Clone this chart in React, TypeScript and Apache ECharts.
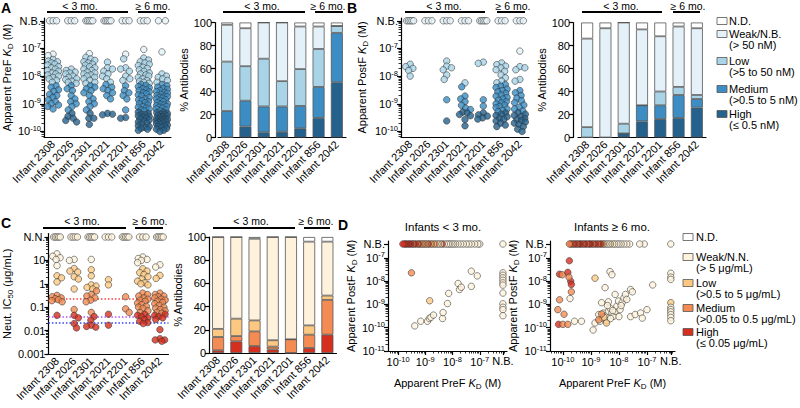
import React, { useEffect, useRef } from 'react';
import * as echarts from 'echarts';

const FONT = "'Liberation Sans', Arial, Helvetica, sans-serif";

const infants = ['Infant 2308', 'Infant 2026', 'Infant 2301', 'Infant 2021', 'Infant 2201', 'Infant 856', 'Infant 2042'];

// ---------- Panel A: apparent PreF KD (nM), one list per infant ----------
const preFKdNM: number[][] = [
  [62, 55, 40, 35, 33, 30, 27, 25, 22, 20, 18, 16, 15, 13, 12, 11, 10, 9, 8, 7, 6, 4.5, 4, 3.2, 2.8, 2.2, 2, 1.7, 1.4, 1.2, 1.0, 0.9, 0.8, 0.65],
  [18, 16, 14, 13, 12, 10, 9, 8, 7.5, 6.5, 6, 5.5, 4.5, 3.5, 3, 2, 1.5, 1.2, 1.0, 0.8, 0.6, 0.45, 0.35, 0.3, 0.25, 0.22],
  [65, 48, 42, 37, 33, 30, 27, 25, 22, 20, 18, 16, 14, 13, 12, 11, 10, 9, 8, 7, 6, 5.5, 4.5, 4, 3.5, 3, 2.5, 2, 1.5, 1.2, 1.0, 0.8, 0.6, 0.45, 0.3, 0.3, 0.18],
  [32, 20, 18, 15, 12, 10, 8, 6, 5, 4, 3.5, 3, 2.5, 2, 1.5, 0.45, 0.42, 0.4],
  [62, 42, 20, 18, 15, 10, 8, 7, 4.5, 3, 2.5, 2, 1.5, 0.6, 0.32, 0.3],
  [92, 45, 38, 33, 30, 27, 24, 21, 19, 17, 15, 13, 12, 11, 10, 9, 8, 7, 6.5, 6, 5.5, 5, 4.6, 4.2, 3.8, 3.5, 3.2, 3, 2.7, 2.5, 2.3, 2.1, 1.9, 1.7, 1.5, 1.4, 1.3, 1.2, 1.1, 1, 0.9, 0.8, 0.75, 0.7, 0.65, 0.6, 0.55, 0.5, 0.45, 0.42, 0.4, 0.37, 0.35, 0.32, 0.3, 0.28, 0.26, 0.24, 0.22, 0.2, 0.18, 0.16, 0.15, 0.14, 0.13, 0.12, 0.11],
  [75, 12, 10, 9, 8, 7, 6, 5, 4.5, 4, 3.6, 3.3, 3, 2.8, 2.6, 2.4, 2.2, 2, 1.9, 1.8, 1.7, 1.6, 1.5, 1.4, 1.3, 1.2, 1.1, 1.0, 0.95, 0.9, 0.85, 0.8, 0.75, 0.7, 0.65, 0.6, 0.55, 0.5, 0.48, 0.45, 0.42, 0.4, 0.38, 0.36, 0.34, 0.32, 0.3, 0.29, 0.28, 0.27, 0.26, 0.25, 0.24, 0.23, 0.22, 0.21, 0.2, 0.19, 0.18, 0.17, 0.16, 0.15, 0.14, 0.13, 0.12, 0.11, 0.1],
];
// circles drawn in the N.B. row of each infant
const preFNBCount = [3, 3, 5, 5, 3, 3, 2];

// PreF binding bins, % of antibodies
const preFHigh = [0, 9.5, 4.5, 5, 8, 17, 48];
const preFMedium = [23, 22.5, 22.5, 22, 19.5, 27, 43];
const preFLow = [43, 30, 41.5, 22, 32, 33, 6];
const preFWeak = [32, 33, 31.5, 51, 37, 19.5, 0];
const preFND = [2, 5, 0, 0, 3.5, 3.5, 3];

// ---------- Panel B: apparent PostF KD (nM) ----------
const postFKdNM: number[][] = [
  [27, 22, 19, 16, 10],
  [],
  [35, 23, 20, 17, 11, 7.6, 1.4, 0.24],
  [5.7, 4.1, 1.9, 1.5, 1.2, 0.88, 0.7, 0.62, 0.5, 0.47, 0.41, 0.37, 0.27, 0.16],
  [32, 29, 1.4, 0.83, 0.47, 0.4, 0.36, 0.31, 0.28],
  [30, 26, 23, 20, 17, 15, 11, 8.7, 6.6, 5.7, 5, 4.4, 3.9, 3.4, 3, 2.7, 2.4, 2.1, 1.9, 1.7, 1.5, 1.35, 1.2, 1.1, 1, 0.9, 0.8, 0.72, 0.65, 0.58, 0.52, 0.47, 0.42, 0.38, 0.34, 0.3, 0.27, 0.24, 0.2, 0.17, 0.15],
  [80, 22, 20, 17, 7.6, 6.6, 3, 2.5, 2, 1.6, 1.3, 1.1, 0.9, 0.75, 0.65, 0.55, 0.48, 0.42, 0.38, 0.34, 0.3, 0.27, 0.25, 0.22, 0.2, 0.18, 0.15, 0.12, 0.1],
];
const postFNBCount = [5, 3, 3, 3, 5, 3, 3];

const postFHigh = [0, 0, 3.5, 14, 16, 17, 26];
const postFMedium = [0, 0, 0, 14, 12, 20, 7.5];
const postFLow = [9, 0, 8.5, 0, 12, 7, 3.5];
const postFWeak = [77, 95, 88, 66, 48, 52.5, 58];
const postFND = [14, 5, 0, 6, 12, 3.5, 5];

// ---------- Panel C: neutralization IC50 (ug/mL) ----------
const ic50UgML: number[][] = [
  [19, 15, 13, 11, 6, 2.2, 1.8, 1.2, 0.32, 0.28, 0.25, 0.23, 0.21, 0.19, 0.17, 0.045],
  [11, 10, 4.5, 3.5, 3.2, 2, 1.6, 0.6, 0.08, 0.045, 0.035, 0.02, 0.013],
  [11, 4, 2.2, 0.9, 0.8, 0.7, 0.6, 0.5, 0.35, 0.3, 0.25, 0.2, 0.17, 0.06, 0.04, 0.028, 0.017, 0.015, 0.014],
  [1.5, 0.9, 0.05, 0.017],
  [0.28, 0.085, 0.06],
  [14, 12, 11, 10, 8, 4.4, 3.5, 3, 2.5, 2, 1.6, 1.3, 1.1, 1, 0.9, 0.4, 0.35, 0.3, 0.25, 0.22, 0.2, 0.18, 0.15, 0.13, 0.11, 0.1, 0.09, 0.07, 0.06, 0.05, 0.045, 0.04, 0.035, 0.03, 0.025, 0.022, 0.02],
  [6.5, 5.2, 2.3, 1.7, 0.4, 0.35, 0.3, 0.28, 0.25, 0.22, 0.2, 0.18, 0.16, 0.14, 0.12, 0.1, 0.09, 0.08, 0.07, 0.06, 0.055, 0.05, 0.045, 0.04, 0.035, 0.03, 0.011, 0.0045, 0.004, 0.004, 0.0035],
];
const ic50NNCount = [5, 4, 5, 3, 5, 3, 5];
const ic50RefLines = [0.22, 0.038, 0.021];

const ic50High = [2.3, 10, 6, 3, 0, 4.3, 15.8];
const ic50Medium = [11.5, 4.6, 12.6, 2.5, 11.8, 11.5, 30];
const ic50Low = [7, 15, 9.5, 5.5, 0, 8, 3.7];
const ic50Weak = [79.2, 70.4, 70.4, 89, 88.2, 72.2, 46.5];
const ic50ND = [0, 0, 1.5, 0, 0, 4, 4];

// ---------- Panel D: [PreF KD nM | null = N.B., PostF KD nM | null = N.B., IC50 ug/mL] ----------
const dYoungPoints: (number | null)[][] = [
  [0.31, 23, 0.2], [1.45, 1.45, 2], [0.41, 0.12, 20], [0.68, 0.19, 20], [1.2, 0.19, 20], [1.4, 0.25, 20],
  [1.6, 0.28, 20], [2.0, 0.35, 20], [4.3, 0.25, 20], [4.5, 0.45, 20], [6.5, 1.1, 20], [7.2, 3.0, 20],
  [16, 8, 20], [18, 4.4, 20], [21, 5.5, 20], [49, 27, 20], [49, 6, 20], [81, 17, 20],
  [null, 23, 20], [null, 18, 20], [null, 14, 20], [null, 11, 20], [null, 8.5, 20], [null, 6.8, 20],
  [null, 3.1, 20], [null, 1.07, 20], [null, 0.76, 20], [null, 0.6, 20], [null, 0.33, 20], [null, null, 20],
  [100, null, 20], [85, null, 20], [65, null, 20], [50, null, 20], [40, null, 20], [32, null, 20], [25, null, 20],
  [20, null, 20], [16, null, 20], [13, null, 20], [11, null, 20], [9.5, null, 20], [8, null, 20], [7, null, 20],
  [6, null, 20], [5, null, 20], [4.2, null, 0.03], [3.6, null, 20], [3.1, null, 2], [2.7, null, 20], [2.3, null, 0.2],
  [2, null, 2], [1.7, null, 0.2], [1.5, null, 2], [1.3, null, 0.03], [1.15, null, 0.2], [1.0, null, 2], [0.9, null, 0.2],
  [0.8, null, 0.2], [0.7, null, 2], [0.63, null, 0.2], [0.56, null, 0.03], [0.5, null, 0.2], [0.43, null, 0.03],
  [0.38, null, 0.03], [0.34, null, 0.2], [0.3, null, 0.03], [0.27, null, 0.03], [0.24, null, 0.03], [0.21, null, 0.03],
  [0.19, null, 0.03], [0.17, null, 0.03], [0.15, null, 0.03],
];
const dOldPoints: (number | null)[][] = [
  [1.2, 0.08, 20], [1.4, 0.16, 20], [1.9, 0.37, 20], [2.1, 0.19, 20], [2.6, 0.25, 20], [2.8, 0.43, 20], [3.2, 0.31, 20],
  [3.6, 0.2, 20], [4.2, 0.51, 20], [4.8, 0.7, 20], [5.6, 0.43, 20], [6.4, 0.31, 20], [7.3, 0.51, 20], [8.4, 0.85, 20],
  [9.7, 1.4, 20], [11, 0.6, 20], [13, 1.2, 20], [15, 1.9, 20], [17, 2.7, 20], [19, 1.65, 20], [7.3, 2.7, 20],
  [4.2, 1.3, 20], [2.4, 1.2, 20], [26, 4.4, 20], [30, 3.5, 20], [26, 0.3, 20], [38, 0.37, 20], [59, 0.43, 20],
  [68, 0.26, 20], [100, 0.6, 20], [160, 6.9, 20], [3.2, 5.3, 20], [4.8, 26, 20], [5.6, 19, 20], [2.9, 0.28, 2],
  [5, 0.25, 20], [6, 0.55, 20], [10, 0.3, 20], [12, 0.9, 20], [3.9, 0.9, 20], [0.26, 0.19, 20], [0.46, 0.19, 20],
  [0.18, 1.8, 20], [2.4, 0.39, 0.2], [1.9, 0.22, 0.2], [3.6, 0.16, 2], [1.4, 13.5, 2],
  [0.17, 76, 0.03], [0.076, 20, 0.03], [0.095, 19, 0.2], [0.15, 24, 0.03], [0.19, 10, 0.03], [0.2, 7.2, 0.03],
  [0.165, 15, 0.2], [0.2, 3.5, 0.2], [0.076, 1.6, 0.2], [0.066, 0.6, 0.2], [0.11, 0.38, 0.2], [0.07, 0.14, 0.03],
  [0.1, 0.14, 0.2], [0.15, 0.14, 0.2],
  [null, 22, 20], [null, 15, 20], [null, 12, 20], [null, 1.2, 2], [null, 0.76, 20], [null, 0.6, 20],
  [null, 0.48, 20], [null, 0.37, 20], [null, 0.28, 20], [null, 0.2, 20], [null, null, 20],
  [80, null, 20], [55, null, 20], [24, null, 20], [19, null, 20], [15, null, 20], [12, null, 20], [10, null, 20],
  [8.5, null, 20], [7, null, 20], [6, null, 20], [5, null, 2], [4.3, null, 20], [3.7, null, 20], [3.2, null, 20],
  [2.8, null, 2], [2.5, null, 0.2], [2.2, null, 0.03], [1.9, null, 0.03], [1.7, null, 0.2], [1.5, null, 0.03],
  [1.3, null, 0.03], [1.15, null, 0.2], [1.0, null, 0.03], [0.9, null, 0.03], [0.8, null, 0.03], [0.7, null, 0.2],
  [0.62, null, 0.03], [0.55, null, 0.03], [0.48, null, 0.2], [0.43, null, 0.03], [0.38, null, 0.03], [0.34, null, 0.03],
  [0.3, null, 0.2], [0.27, null, 0.03], [0.24, null, 0.03], [0.21, null, 0.2], [0.19, null, 0.03], [0.17, null, 0.2],
];

// ---------- tick labels & legend texts ----------
const kdExponents = [-10, -9, -8, -7];
const dExponentsY = [-11, -10, -9, -8, -7];
const ic50TickLabels = ['0.001', '0.01', '0.1', '1', '10', 'N.N.'];
const pctTicks = [0, 20, 40, 60, 80, 100];
const kdLegend = [['N.D.'], ['Weak/N.B.', '(> 50 nM)'], ['Low', '(>5 to 50 nM)'], ['Medium', '(>0.5 to 5 nM)'], ['High', '(\u2264 0.5 nM)']];
const icLegend = [['N.D.'], ['Weak/N.N.', '(> 5 \u03bcg/mL)'], ['Low', '(>0.5 to 5 \u03bcg/mL)'], ['Medium', '(>0.05 to 0.5 \u03bcg/mL)'], ['High', '(\u2264 0.05 \u03bcg/mL)']];

const BLUE = ['#ffffff', '#e4f1f8', '#a9d4e8', '#3b8dc4', '#24628d']; // ND, weak, low, med, high
const ORANGE = ['#ffffff', '#fef2dc', '#fdc982', '#f38b52', '#d62f1f'];

const NB_KD = -6; // position of N.B. on KD axes (A, B)
const NN_IC = 2; // position of N.N. on IC50 axis
const NB_DX = -6.15;
const NB_DY = -6.4;

function kdColor(nM: number) {
  if (nM <= 0.5) return BLUE[4];
  if (nM <= 5) return BLUE[3];
  if (nM <= 50) return BLUE[2];
  return BLUE[1];
}
function icColor(v: number | null) {
  if (v === null) return ORANGE[0];
  if (v <= 0.05) return ORANGE[4];
  if (v <= 0.5) return ORANGE[3];
  if (v <= 5) return ORANGE[2];
  return ORANGE[1];
}
function minorLog(lo: number, hi: number) {
  const out: number[] = [];
  for (let e = Math.floor(lo) - 1; e <= Math.ceil(hi); e++) {
    for (let k = 2; k <= 9; k++) {
      const v = e + Math.log10(k);
      if (v >= lo - 1e-9 && v <= hi + 1e-9) out.push(v);
    }
  }
  return out;
}
function swarm(ys: number[], d: number, maxOff: number): number[] {
  const placed: [number, number][] = [];
  return ys.map((y, idx) => {
    let best = 0;
    let bestScore = -Infinity;
    const steps = Math.round(maxOff * 4);
    for (let k = 0; k <= steps; k++) {
      const a = k * 0.25;
      const cands = k === 0 ? [0] : idx % 2 ? [-a, a] : [a, -a];
      for (const c of cands) {
        let minD = Infinity;
        for (const [px, py] of placed) {
          const dd = Math.hypot(px - c, py - y);
          if (dd < minD) minD = dd;
        }
        if (minD >= d) {
          placed.push([c, y]);
          return c;
        }
        if (minD > bestScore) {
          bestScore = minD;
          best = c;
        }
      }
    }
    placed.push([best, y]);
    return best;
  });
}

function buildOption() {
  const grid: any[] = [];
  const xAxis: any[] = [];
  const yAxis: any[] = [];
  const series: any[] = [];
  const graphic: any[] = [];
  const lineSt = { color: '#000', width: 1.2 };
  const lab = { color: '#000', fontSize: 11, fontFamily: FONT };
  const supRich = {
    b: { fontSize: 11, fontFamily: FONT, color: '#000' },
    s: { fontSize: 7.5, fontFamily: FONT, color: '#000', padding: [0, 0, 6, 0] },
  };
  const nameRich = {
    i: { fontStyle: 'italic', fontSize: 11, fontFamily: FONT, color: '#000' },
    d: { fontSize: 8, fontFamily: FONT, color: '#000', padding: [7, 0, 0, 0] },
  };
  const kdName = (w: string) => `Apparent ${w} {i|K}{d|D} (M)`;
  const expFmt = (nb: number) => (v: number) => (Math.abs(v - nb) < 1e-6 ? 'N.B.' : `{b|10}{s|${Math.round(v)}}`);

  const logY = (gi: number, min: number, max: number, vals: number[], fmt: any, minor: number[], name: string, nameGap: number, offset = 0) => {
    const idx = yAxis.length;
    yAxis.push({
      type: 'value', gridIndex: gi, min, max, position: 'left', offset,
      axisLine: { show: true, onZero: false, lineStyle: lineSt }, splitLine: { show: false },
      axisTick: { show: true, customValues: vals, length: 4, lineStyle: lineSt },
      axisLabel: { customValues: vals, formatter: fmt, rich: supRich, margin: 3, ...lab },
      name, nameLocation: 'middle', nameGap, nameTextStyle: { ...lab, rich: nameRich },
    });
    yAxis.push({
      type: 'value', gridIndex: gi, min, max, position: 'left', offset,
      axisLine: { show: false, onZero: false }, splitLine: { show: false }, axisLabel: { show: false },
      axisTick: { show: true, customValues: minor, length: 2.5, lineStyle: { color: '#000', width: 0.8 } },
    });
    return idx;
  };

  const catScatter = (c: any) => {
    const gi = grid.length;
    grid.push({ left: c.left, top: c.top, width: c.width, height: c.height });
    xAxis.push({
      type: 'category', gridIndex: gi, data: infants, position: 'bottom',
      axisLine: { onZero: false, lineStyle: lineSt }, axisTick: { alignWithLabel: true, length: 4, lineStyle: lineSt },
      axisLabel: { ...lab, rotate: 45, margin: 5, interval: 0 }, splitLine: { show: false },
    });
    const xv = xAxis.length;
    xAxis.push({ type: 'value', gridIndex: gi, min: -0.5, max: 6.5, show: false, position: 'bottom', axisLine: { onZero: false } });
    const yi = logY(gi, c.yMin, c.yMax, c.labelVals, c.fmt, c.minor, c.name, c.nameGap, c.offset || 0);
    const band = c.width / 7;
    const ppd = c.height / (c.yMax - c.yMin);
    const data: any[] = [];
    (c.lists as number[][]).forEach((vals, i) => {
      const ys = vals.map((v) => c.toLog(v));
      const offs = swarm(ys.map((y) => y * ppd), 5, 5.5);
      vals.forEach((v, j) => data.push({ value: [i + offs[j] / band, ys[j]], itemStyle: { color: c.colorFn(v) } }));
      const n = c.nbCounts[i];
      for (let k = 0; k < n; k++) {
        const off = n === 1 ? 0 : -3.5 + (7 * k) / (n - 1);
        data.push({ value: [i + off / band, c.nbVal], itemStyle: { color: c.nbColor } });
      }
    });
    const s: any = {
      type: 'scatter', xAxisIndex: xv, yAxisIndex: yi, data, symbolSize: 6.5, silent: true,
      itemStyle: { borderColor: '#333', borderWidth: 0.7 },
    };
    if (c.refLines) {
      const cols = ['#ff3b3b', '#b84dff', '#3340ff'];
      s.markLine = {
        silent: true, symbol: 'none', label: { show: false }, z: 1,
        data: (c.refLines as number[]).map((v, k) => ({ yAxis: Math.log10(v), lineStyle: { color: cols[k], type: [1.5, 2], width: 1.5, opacity: 1 } })),
      };
    }
    series.push(s);
  };

  const barPanel = (c: any) => {
    const gi = grid.length;
    grid.push({ left: c.left, top: c.top, width: c.width, height: c.height });
    const xi = xAxis.length;
    xAxis.push({
      type: 'category', gridIndex: gi, data: infants, position: 'bottom',
      axisLine: { onZero: false, lineStyle: lineSt }, axisTick: { alignWithLabel: true, length: 4, lineStyle: lineSt },
      axisLabel: { ...lab, rotate: 45, margin: 5, interval: 0 },
    });
    const yi = yAxis.length;
    yAxis.push({
      type: 'value', gridIndex: gi, min: 0, max: 100, interval: 20, offset: c.offset, position: 'left',
      axisLine: { show: true, onZero: false, lineStyle: lineSt }, splitLine: { show: false },
      axisTick: { show: true, length: 4, lineStyle: lineSt, customValues: pctTicks },
      axisLabel: { ...lab, margin: 3 },
      name: '% Antibodies', nameLocation: 'middle', nameGap: c.nameGap, nameTextStyle: { ...lab },
    });
    (c.stacks as number[][]).forEach((arr, k) => {
      series.push({
        type: 'bar', xAxisIndex: xi, yAxisIndex: yi, stack: 'st' + gi, data: arr, barWidth: 12, silent: true,
        itemStyle: { color: c.colors[k], borderColor: '#555', borderWidth: 0.8 },
      });
    });
  };

  const dPanel = (c: any) => {
    const gi = grid.length;
    grid.push({ left: c.left, top: c.top, width: c.width, height: c.height });
    const xi = xAxis.length;
    const xVals = [-10, -9, -8, -7, NB_DX];
    xAxis.push({
      type: 'value', gridIndex: gi, min: c.xMin, max: c.xMax, position: 'bottom',
      axisLine: { show: true, onZero: false, lineStyle: lineSt }, splitLine: { show: false },
      axisTick: { show: true, customValues: xVals, length: 4, lineStyle: lineSt },
      axisLabel: { customValues: xVals, formatter: expFmt(NB_DX), rich: supRich, margin: 4, ...lab },
      name: kdName('PreF'), nameLocation: 'middle', nameGap: 24, nameTextStyle: { ...lab, rich: nameRich },
    });
    xAxis.push({
      type: 'value', gridIndex: gi, min: c.xMin, max: c.xMax, position: 'bottom',
      axisLine: { show: false, onZero: false }, splitLine: { show: false }, axisLabel: { show: false },
      axisTick: { show: true, customValues: minorLog(c.xMin, -6.05), length: 2.5, lineStyle: { color: '#000', width: 0.8 } },
    });
    const yi = logY(gi, -11, -6.27, [...dExponentsY, NB_DY], expFmt(NB_DY), minorLog(-11, -6.9), kdName('PostF'), c.nameGap);
    const toL = (v: number | null, nb: number) => (v === null ? nb : Math.log10(v * 1e-9));
    const data = (c.points as (number | null)[][]).map((p) => ({
      value: [toL(p[0], NB_DX), toL(p[1], NB_DY)],
      itemStyle: { color: icColor(p[2]) },
    }));
    series.push({
      type: 'scatter', xAxisIndex: xi, yAxisIndex: yi, data, symbolSize: 6.5, silent: true,
      itemStyle: { borderColor: '#333', borderWidth: 0.7 },
    });
  };

  const kdLog = (v: number) => Math.log10(v * 1e-9);
  const kdMinor = minorLog(-10.2, -6);

  // A scatter
  catScatter({
    left: 43, top: 18, width: 128, height: 119, yMin: -10.2, yMax: -5.9,
    labelVals: [...kdExponents, NB_KD], fmt: expFmt(NB_KD), minor: kdMinor, name: kdName('PreF'), nameGap: 26,
    lists: preFKdNM, nbCounts: preFNBCount, toLog: kdLog, nbVal: NB_KD, colorFn: kdColor, nbColor: BLUE[1],
  });
  // A bars
  barPanel({ left: 218, top: 22.5, width: 128, height: 115, offset: 3, nameGap: 19, stacks: [preFHigh, preFMedium, preFLow, preFWeak, preFND], colors: [BLUE[4], BLUE[3], BLUE[2], BLUE[1], BLUE[0]] });
  // B scatter
  catScatter({
    left: 401, top: 18, width: 128, height: 119, yMin: -10.2, yMax: -5.9,
    labelVals: [...kdExponents, NB_KD], fmt: expFmt(NB_KD), minor: kdMinor, name: kdName('PostF'), nameGap: 32,
    lists: postFKdNM, nbCounts: postFNBCount, toLog: kdLog, nbVal: NB_KD, colorFn: kdColor, nbColor: BLUE[1],
  });
  // B bars
  barPanel({ left: 578, top: 22.5, width: 128, height: 115, offset: 5, nameGap: 19, stacks: [postFHigh, postFMedium, postFLow, postFWeak, postFND], colors: [BLUE[4], BLUE[3], BLUE[2], BLUE[1], BLUE[0]] });
  // C scatter
  catScatter({
    left: 41, top: 233.5, width: 127.5, height: 120.5, yMin: -3, yMax: 2.15,
    labelVals: [-3, -2, -1, 0, 1, NN_IC], fmt: (v: number) => ic50TickLabels[Math.round(v) + 3], minor: minorLog(-3, 2), nameGap: 32,
    name: 'Neut. IC{d|50} (\u03bcg/mL)',
    lists: ic50UgML, nbCounts: ic50NNCount, toLog: (v: number) => Math.log10(v), nbVal: NN_IC, colorFn: icColor, nbColor: ORANGE[1],
    refLines: ic50RefLines,
  });
  // C bars
  barPanel({ left: 209, top: 237, width: 127.5, height: 116, offset: 0, nameGap: 19, stacks: [ic50High, ic50Medium, ic50Low, ic50Weak, ic50ND], colors: [ORANGE[4], ORANGE[3], ORANGE[2], ORANGE[1], ORANGE[0]] });
  // D panels
  dPanel({ left: 388, top: 241, width: 119, height: 110, xMin: -10.37, xMax: -6.0, points: dYoungPoints, nameGap: 30 });
  dPanel({ left: 550, top: 241, width: 125, height: 110, xMin: -10.46, xMax: -6.0, points: dOldPoints, nameGap: 24 });

  // ---- graphic: letters, headers, legends, titles ----
  const txt = (x: number, y: number, text: string, o: any = {}) => ({
    type: 'text', x, y, silent: true,
    style: {
      text, fill: '#000', fontSize: o.size || 11, fontFamily: FONT, fontWeight: o.weight || 'normal',
      align: o.align || 'center', verticalAlign: o.va || 'middle',
    },
  });
  const ln = (x1: number, y1: number, x2: number, y2: number) => ({ type: 'line', silent: true, shape: { x1, y1, x2, y2 }, style: { stroke: '#000', lineWidth: 2 } });

  graphic.push(txt(1, 1, 'A', { size: 14, weight: 'bold', align: 'left', va: 'top' }));
  graphic.push(txt(347, 1, 'B', { size: 14, weight: 'bold', align: 'left', va: 'top' }));
  graphic.push(txt(1, 216, 'C', { size: 14, weight: 'bold', align: 'left', va: 'top' }));
  graphic.push(txt(338, 218, 'D', { size: 14, weight: 'bold', align: 'left', va: 'top' }));

  const headers = [
    { y: 12, ty: 5.5, a: [47, 128], at: 80, b: [138, 166], bt: 153 },
    { y: 12, ty: 5.5, a: [223, 305], at: 262, b: [315, 343], bt: 328 },
    { y: 12, ty: 5.5, a: [405, 485], at: 444, b: [497, 525], bt: 513 },
    { y: 12, ty: 5.5, a: [582, 662], at: 621, b: [673, 700], bt: 688 },
    { y: 228, ty: 220.5, a: [43, 126], at: 82, b: [135, 163], bt: 150 },
    { y: 228, ty: 220.5, a: [213, 295], at: 251, b: [304, 330], bt: 316 },
  ];
  headers.forEach((h) => {
    graphic.push(ln(h.a[0], h.y, h.a[1], h.y));
    graphic.push(ln(h.b[0], h.y, h.b[1], h.y));
    graphic.push(txt(h.at, h.ty, '< 3 mo.', { size: 10.5 }));
    graphic.push(txt(h.bt, h.ty, '\u2265 6 mo.', { size: 10.5 }));
  });

  graphic.push(txt(443, 227, 'Infants < 3 mo.', { size: 11.5 }));
  graphic.push(txt(612, 227, 'Infants \u2265 6 mo.', { size: 11.5 }));

  const legend = (bx: number, tx: number, ys: number[], labels: string[][], colors: string[]) => {
    labels.forEach((l, k) => {
      graphic.push({ type: 'rect', silent: true, shape: { x: bx, y: ys[k] - 3.5, width: 10, height: 7 }, style: { fill: colors[k], stroke: '#555', lineWidth: 0.8 } });
      graphic.push(txt(tx, ys[k], l[0], { align: 'left' }));
      if (l[1]) graphic.push(txt(tx, ys[k] + 11, l[1], { align: 'left' }));
    });
  };
  legend(717, 729, [21, 34, 61, 89, 114], kdLegend, BLUE);
  legend(683, 696, [237, 257, 283, 308, 332], icLegend, ORANGE);

  return { animation: false, backgroundColor: '#fff', textStyle: { fontFamily: FONT }, grid, xAxis, yAxis, series, graphic };
}

export default function App() {
  const ref = useRef<HTMLDivElement>(null);
  useEffect(() => {
    if (!ref.current) return;
    const chart = echarts.init(ref.current, null, { renderer: 'svg' });
    chart.setOption(buildOption() as any);
    return () => chart.dispose();
  }, []);
  return <div ref={ref} style={{ position: 'absolute', left: 0, top: 0, width: 800, height: 408 }} />;
}
